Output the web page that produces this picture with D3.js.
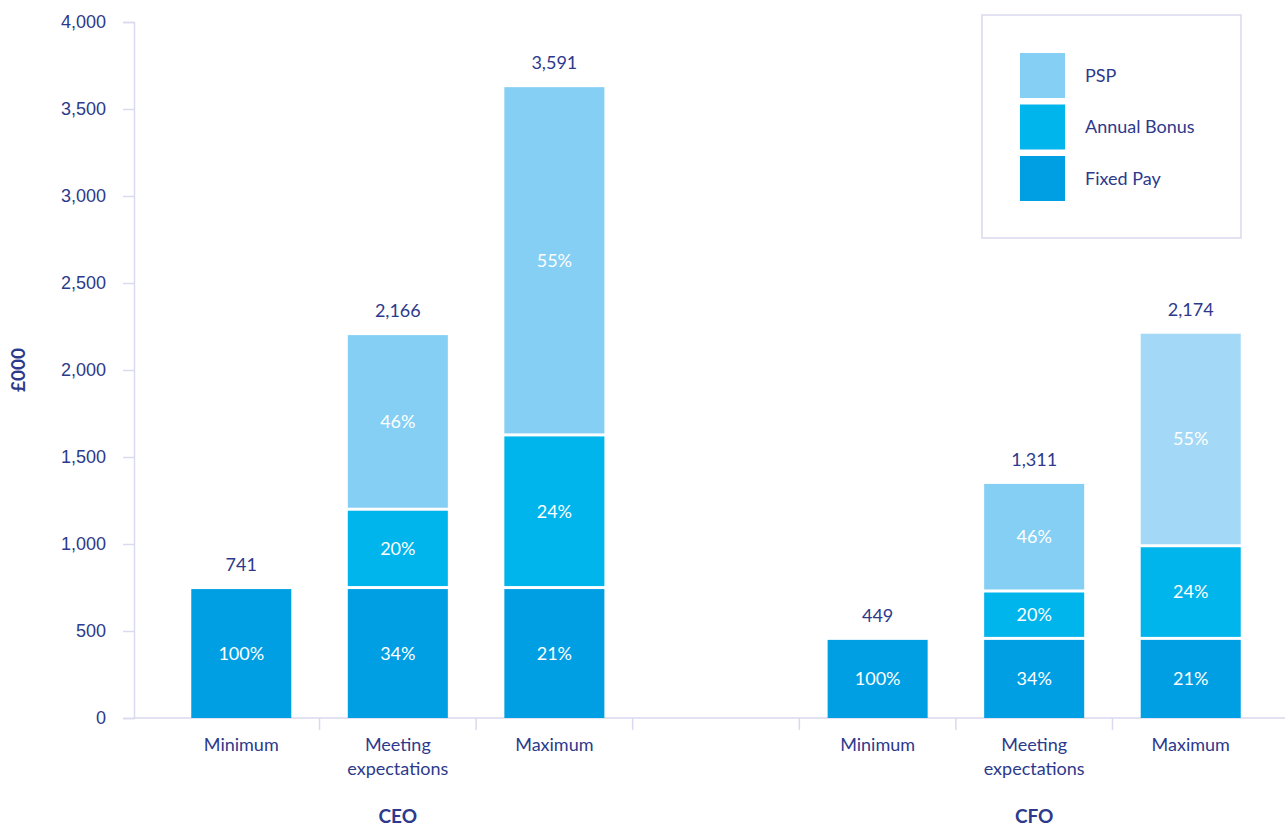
<!DOCTYPE html>
<html>
<head>
<meta charset="utf-8">
<script src="https://cdn.jsdelivr.net/npm/d3@7"></script>
<style>
  body { margin: 0; background: #fff; }
  svg { font-family: Lato, "Noto Sans", sans-serif; }
</style>
</head>
<body>
<svg id="chart" width="1285" height="829"></svg>
<script>
// --- data (£000) ---
const groups = ["CEO", "CFO"];
const scenarios = ["Minimum", "Meeting expectations", "Maximum"];
const fixedPay = [741, 741, 741, 449, 449, 449];
const annualBonus = [0, 433, 860, 0, 255, 515];
const psp = [0, 992, 1990, 0, 607, 1210];
const totals = [741, 2166, 3591, 449, 1311, 2174];
const fixedShare = [100, 34, 21, 100, 34, 21];
const bonusShare = [0, 20, 24, 0, 20, 24];
const pspShare = [0, 46, 55, 0, 46, 55];
const yTicks = [0, 500, 1000, 1500, 2000, 2500, 3000, 3500, 4000];
const legendLabels = ["PSP", "Annual Bonus", "Fixed Pay"];

const navy = "#2d3a8c";
const axisCol = "#d9d9ef";
const colors = { fixed: "#009fe3", bonus: "#00b4ec", psp: "#85cff4" };
const gap = 3;
const fs = 18;

let rows = [];
groups.forEach((g, gi) => {
  scenarios.forEach((s, si) => {
    let i = gi * 3 + si;
    rows.push({
      group: g, scenario: s, total: totals[i],
      fixed: fixedPay[i], bonus: annualBonus[i], psp: psp[i],
      fixedShare: fixedShare[i], bonusShare: bonusShare[i], pspShare: pspShare[i]
    });
  });
});

let keys = ["fixed", "bonus", "psp"];
let series = d3.stack().keys(keys)(rows);

let svg = d3.select("#chart");

let y = d3.scaleLinear().domain([0, 4000]).range([718, 22]);

let x0 = d3.scaleBand().domain(groups).range([163, 1269]).paddingInner(0.262);
let x1 = d3.scaleBand().domain(scenarios).range([0, x0.bandwidth()])
  .paddingInner(0.361).paddingOuter(0.1805);

// y axis
let yAxis = svg.append("g")
  .attr("transform", "translate(134,0)")
  .call(d3.axisLeft(y).tickValues(yTicks).tickFormat(d3.format(",")).tickSize(11).tickPadding(17));
yAxis.select(".domain").attr("stroke", axisCol).attr("stroke-width", 1.5);
yAxis.selectAll(".tick line").attr("stroke", axisCol).attr("stroke-width", 1.5);
yAxis.selectAll(".tick text").attr("fill", navy).attr("font-size", fs);

// x axis line + separators
svg.append("line")
  .attr("x1", 134).attr("x2", 1285).attr("y1", 718).attr("y2", 718)
  .attr("stroke", axisCol).attr("stroke-width", 1.5);

let sepTicks = [];
groups.forEach((g, gi) => {
  x1.domain().forEach((s) => {
    let left = x0(g) + x1(s) - x1.step() * x1.paddingInner() / 2;
    sepTicks.push(gi === 0 ? left + x1.step() : left);
  });
});
svg.selectAll("line.sep").data(sepTicks).enter().append("line")
  .attr("class", "sep")
  .attr("x1", d => d).attr("x2", d => d)
  .attr("y1", 718).attr("y2", 730)
  .attr("stroke", axisCol).attr("stroke-width", 1.5);

svg.append("text")
  .attr("transform", "translate(25,370) rotate(-90)")
  .attr("text-anchor", "middle")
  .attr("fill", navy).attr("font-size", 19).attr("font-weight", "bold")
  .text("£000");

// bars
let barX = d => x0(d.data.group) + x1(d.data.scenario);

series.forEach((s, si) => {
  svg.append("g").selectAll("rect")
    .data(s.filter(d => d[1] - d[0] > 0))
    .enter().append("rect")
    .attr("x", barX)
    .attr("width", x1.bandwidth())
    .attr("y", d => y(d[1]) - si * gap)
    .attr("height", d => y(d[0]) - y(d[1]))
    .attr("fill", d => (s.key === "psp" && d.data.group === "CFO" && d.data.scenario === "Maximum") ? "#a3d9f6" : colors[s.key]);

  svg.append("g").selectAll("text")
    .data(s.filter(d => d[1] - d[0] > 0))
    .enter().append("text")
    .attr("x", d => barX(d) + x1.bandwidth() / 2)
    .attr("y", d => (y(d[0]) + y(d[1])) / 2 - si * gap)
    .attr("dy", "0.35em")
    .attr("text-anchor", "middle")
    .attr("fill", "#fff").attr("font-size", fs)
    .text(d => d.data[s.key + "Share"] + "%");
});

// totals above bars
svg.append("g").selectAll("text")
  .data(rows)
  .enter().append("text")
  .attr("x", d => x0(d.group) + x1(d.scenario) + x1.bandwidth() / 2)
  .attr("y", d => {
    let n = [d.fixed, d.bonus, d.psp].filter(v => v > 0).length;
    return y(d.total) - (n - 1) * gap - 18;
  })
  .attr("text-anchor", "middle")
  .attr("fill", navy).attr("font-size", fs)
  .text(d => d3.format(",")(d.total));

// category labels
rows.forEach((d) => {
  let cx = x0(d.group) + x1(d.scenario) + x1.bandwidth() / 2;
  let words = d.scenario === "Meeting expectations" ? ["Meeting", "expectations"] : [d.scenario];
  words.forEach((w, wi) => {
    svg.append("text")
      .attr("x", cx).attr("y", 751 + wi * 24)
      .attr("text-anchor", "middle")
      .attr("fill", navy).attr("font-size", fs)
      .text(w);
  });
});

svg.append("g").selectAll("text")
  .data(groups).enter().append("text")
  .attr("x", g => x0(g) + x0.bandwidth() / 2)
  .attr("y", 823)
  .attr("text-anchor", "middle")
  .attr("fill", navy).attr("font-size", 19).attr("font-weight", "bold")
  .text(g => g);

// legend
let legend = svg.append("g");
legend.append("rect")
  .attr("x", 982).attr("y", 15).attr("width", 259).attr("height", 223)
  .attr("fill", "#fff").attr("stroke", axisCol).attr("stroke-width", 1.5);

let legendKeys = ["psp", "bonus", "fixed"];
legendLabels.forEach((l, i) => {
  legend.append("rect")
    .attr("x", 1020).attr("y", 53 + i * 51.5)
    .attr("width", 45).attr("height", 45)
    .attr("fill", colors[legendKeys[i]]);
  legend.append("text")
    .attr("x", 1085).attr("y", 53 + i * 51.5 + 22.5)
    .attr("dy", "0.35em")
    .attr("fill", navy).attr("font-size", fs)
    .text(l);
});
</script>
</body>
</html>
